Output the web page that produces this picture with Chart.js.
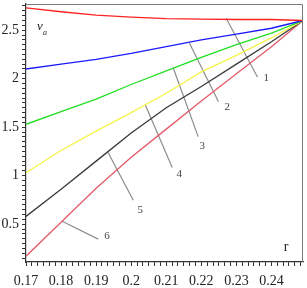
<!DOCTYPE html>
<html>
<head>
<meta charset="utf-8">
<style>
  html, body { margin: 0; padding: 0; background: #fff; }
  #c { display: block; }
</style>
<script src="https://cdn.jsdelivr.net/npm/chart.js@4/dist/chart.umd.min.js"></script>
</head>
<body>
<canvas id="c" width="307" height="288"></canvas>
<script>
// r values shared by all curves
const rValues = [0.17, 0.18, 0.19, 0.20, 0.21, 0.22, 0.23, 0.24, 0.249];

// v_a for curves 1..6
const curve1 = [2.73, 2.69, 2.655, 2.635, 2.62, 2.615, 2.61, 2.61, 2.60];
const curve2 = [2.10, 2.15, 2.20, 2.26, 2.33, 2.40, 2.46, 2.52, 2.60];
const curve3 = [1.53, 1.66, 1.79, 1.94, 2.08, 2.22, 2.35, 2.47, 2.60];
const curve4 = [1.03, 1.26, 1.46, 1.65, 1.85, 2.07, 2.24, 2.42, 2.60];
const curve5 = [0.58, 0.86, 1.15, 1.44, 1.70, 1.92, 2.15, 2.38, 2.60];
const curve6 = [0.17, 0.52, 0.87, 1.19, 1.48, 1.77, 2.05, 2.33, 2.60];
const curveColors = ["#ff2222", "#1a1aff", "#22dd22", "#f4f44a", "#3a3a3a", "#e35a68"];

// leader lines and their numbers (in data units)
const curveNames = ["1", "2", "3", "4", "5", "6"];
const leaderR0 = [0.2271, 0.2166, 0.2120, 0.2040, 0.1934, 0.1803];
const leaderV0 = [2.623, 2.367, 2.110, 1.731, 1.238, 0.531];
const leaderR1 = [0.2360, 0.2249, 0.2191, 0.2117, 0.2006, 0.1906];
const leaderV1 = [2.018, 1.762, 1.403, 1.085, 0.746, 0.346];
const labelR = [0.2385, 0.2274, 0.2203, 0.2137, 0.2026, 0.1931];
const labelV = [2.005, 1.71, 1.30, 1.02, 0.65, 0.375];

// axes
const xTickLabels = [0.17, 0.18, 0.19, 0.2, 0.21, 0.22, 0.23, 0.24];
const yTickLabels = [0.5, 1, 1.5, 2, 2.5];
const X_MIN = 0.17, X_MAX = 0.249, Y_MIN = 0.11, Y_MAX = 2.77;

const SERIF = "'Liberation Serif', 'DejaVu Serif', serif";

const curves = [curve1, curve2, curve3, curve4, curve5, curve6];
const datasets = [];
curves.forEach((c, i) => {
  datasets.push({
    data: rValues.map((r, k) => ({ x: r, y: c[k] })),
    borderColor: curveColors[i],
    borderWidth: 1.3,
    pointRadius: 0,
    tension: 0
  });
});
leaderR0.forEach((r0, i) => {
  datasets.push({
    data: [{ x: r0, y: leaderV0[i] }, { x: leaderR1[i], y: leaderV1[i] }],
    borderColor: "#8c8c8c",
    borderWidth: 1.2,
    pointRadius: 0
  });
});

function isMajor(v, list){
  return list.some(t => Math.abs(t - v) < 1e-6);
}

const annotations = {
  id: "annotations",
  afterDatasetsDraw(chart){
    const { ctx, chartArea: a, scales: { x, y } } = chart;
    ctx.save();
    // frame (top / right in gray)
    ctx.strokeStyle = "#7a7a7a";
    ctx.lineWidth = 1;
    ctx.beginPath();
    ctx.moveTo(a.left, a.top + 0.5);
    ctx.lineTo(a.right - 0.5, a.top + 0.5);
    ctx.lineTo(a.right - 0.5, a.bottom);
    ctx.stroke();

    // curve numbers
    ctx.fillStyle = "#444";
    ctx.font = "11px " + SERIF;
    ctx.textAlign = "center";
    ctx.textBaseline = "middle";
    curveNames.forEach((n, i) => {
      ctx.fillText(n, x.getPixelForValue(labelR[i]), y.getPixelForValue(labelV[i]));
    });

    // axis names
    ctx.fillStyle = "#222";
    ctx.font = "italic 13px " + SERIF;
    ctx.fillText("v", a.left + 14, a.top + 23);
    ctx.font = "italic 8px " + SERIF;
    ctx.fillText("a", a.left + 19, a.top + 29);
    ctx.font = "14px " + SERIF;
    ctx.fillText("r", a.right - 17, a.bottom - 15);
    ctx.restore();
  }
};

new Chart(document.getElementById("c"), {
  type: "line",
  data: { datasets },
  plugins: [annotations],
  options: {
    responsive: false,
    animation: false,
    layout: { padding: { left: 0, top: 4, right: 4, bottom: 0 } },
    plugins: { legend: { display: false }, tooltip: { enabled: false } },
    scales: {
      x: {
        type: "linear",
        min: X_MIN,
        max: X_MAX,
        afterFit(s){ s.height = 26; s.paddingLeft = 0; s.paddingRight = 0; },
        afterBuildTicks(s){
          const t = [];
          for (let k = 0; ; k++) {
            const v = X_MIN + k * 0.01 / 6;
            if (v > X_MAX + 1e-9) break;
            t.push({ value: v });
          }
          s.ticks = t;
        },
        ticks: {
          autoSkip: false,
          maxRotation: 0,
          padding: 7,
          color: "#222",
          font: { family: SERIF, size: 14 },
          callback: (v) => isMajor(v, xTickLabels) ? String(Number(v.toFixed(2))) : ""
        },
        grid: { drawOnChartArea: false, drawTicks: true, tickLength: 4, color: "#333" },
        border: { color: "#333", width: 1.2 }
      },
      y: {
        type: "linear",
        min: Y_MIN,
        max: Y_MAX,
        afterFit(s){ s.width = 26; s.paddingTop = 0; s.paddingBottom = 0; },
        afterBuildTicks(s){
          const t = [];
          for (let k = 3; ; k++) {
            const v = k * 0.05;
            if (v > Y_MAX + 1e-9) break;
            t.push({ value: v });
          }
          s.ticks = t;
        },
        ticks: {
          autoSkip: false,
          padding: 3,
          color: "#222",
          font: { family: SERIF, size: 14 },
          callback: (v) => isMajor(v, yTickLabels) ? String(Number(v.toFixed(2))) : ""
        },
        grid: { drawOnChartArea: false, drawTicks: true, tickLength: 4, color: "#333" },
        border: { color: "#333", width: 1.2 }
      }
    }
  }
});
</script>
</body>
</html>
